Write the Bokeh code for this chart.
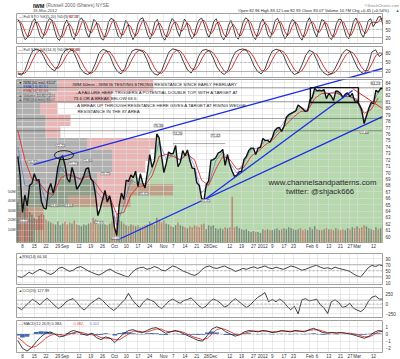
import numpy as np
from bokeh.plotting import figure
from bokeh.layouts import column
from bokeh.models import Range1d, LinearAxis, FixedTicker, Span, Label
from bokeh.embed import file_html
from bokeh.resources import INLINE
from bokeh.core.properties import value

FONT = "Liberation Sans"

# ------------------------------------------------------------------ data
HOLIDAYS = ["2011-09-05", "2011-11-24", "2011-12-26", "2012-01-02", "2012-01-16", "2012-02-20"]
TICK_DATES = ["2011-08-08", "2011-08-15", "2011-08-22", "2011-08-29", "2011-09-01", "2011-09-12",
              "2011-09-19", "2011-09-26", "2011-10-03", "2011-10-10", "2011-10-17", "2011-10-24",
              "2011-11-01", "2011-11-07", "2011-11-14", "2011-11-21", "2011-11-28", "2011-12-01",
              "2011-12-12", "2011-12-19", "2011-12-27", "2012-01-03", "2012-01-09", "2012-01-17",
              "2012-01-23", "2012-02-01", "2012-02-06", "2012-02-13", "2012-02-21", "2012-02-27",
              "2012-03-01", "2012-03-12"]
TICK_LABELS = ["8", "15", "22", "29", "Sep", "12", "19", "26", "Oct", "10", "17", "24", "Nov", "7",
               "14", "21", "28", "Dec", "12", "19", "27", "2012", "9", "17", "23", "Feb", "6", "13",
               "21", "27", "Mar", "12"]

# IWM closes, one per trading day, 4-Aug-2011 .. 16-Mar-2012
close = [72.5, 69.5, 63.8, 66.5, 64.8, 68.0, 68.3, 69.8, 68.8, 68.9, 65.5, 64.5, 64.3, 67.3, 68.3, 66.8, 68.2, 70.8, 72.2, 72.6,
         71.2, 69.0, 68.5, 70.8, 69.6, 67.4, 67.9, 68.6, 69.5, 70.6, 70.7, 69.0, 68.6, 66.5, 63.3, 64.4, 65.8, 67.2, 65.4, 66.4, 64.4,
         61.5, 60.2, 64.8, 66.8, 65.8, 68.8, 68.6, 69.6, 69.2, 70.2, 67.8, 69.8, 68.4, 67.6, 70.0, 72.8, 70.8, 71.8, 76.0, 75.4, 72.6,
         70.0, 71.4, 73.2, 72.9, 73.0, 74.2, 70.9, 71.6, 73.4, 72.6, 73.5, 71.9, 70.7, 70.6, 68.4, 68.0, 66.0, 65.6, 68.1, 68.7, 71.9,
         72.0, 72.3, 73.0, 73.2, 73.6, 71.1, 72.8, 71.2, 70.2, 69.4, 69.6, 70.1, 70.2, 72.0, 72.5, 73.4, 73.8, 73.8, 72.8, 73.8, 73.9,
         75.3, 75.0, 75.0, 74.7, 75.4, 76.5, 76.9, 77.0, 76.4, 77.2, 78.6, 79.0, 79.2, 79.4, 79.6, 80.5, 80.2, 79.9, 79.5, 79.6,
         81.3, 81.7, 83.1, 82.7, 82.8, 82.7, 82.9, 81.5, 82.3, 81.9, 81.2, 82.7, 82.6, 82.3, 81.6, 82.2, 82.4, 81.8, 82.3, 81.1,
         81.1, 80.5, 79.7, 77.6, 78.8, 80.0, 80.9, 80.7, 82.8, 82.5, 83.1, 83.07]

# volume, millions of shares
volume_m = [38, 30, 42, 36, 33, 28, 25, 22, 20, 24, 26, 25, 20, 18, 17, 16, 15, 18, 14, 16,
            18, 15, 17, 16, 19, 15, 14, 13, 15, 14, 16, 17, 22, 20, 18, 16, 17, 15, 14, 16, 18,
            24, 26, 20, 18, 16, 14, 13, 15, 14, 13, 14, 12, 13, 14, 15, 18, 16, 15, 22, 20, 17,
            19, 16, 15, 13, 12, 14, 17, 14, 13, 12, 11, 13, 12, 14, 13, 12, 15, 16, 10, 14, 13,
            14, 11, 10, 11, 10, 12, 11, 12, 44, 12, 13, 11, 10, 9, 10, 8, 7, 8, 7, 7, 6,
            10, 9, 10, 9, 9, 10, 11, 9, 10, 11, 10, 12, 11, 10, 9, 10, 11, 9, 10, 9,
            12, 10, 13, 10, 9, 9, 10, 11, 10, 10, 9, 11, 10, 9, 10, 9, 11, 10, 12, 11,
            13, 11, 12, 14, 13, 11, 10, 9, 12, 10, 11, 14]

# moving averages, every third trading day
ema_fast = [74.0, 68.0, 67.8, 68.6, 65.5, 66.5, 71.0, 69.5, 69.5, 68.7, 70.2, 67.2, 65.8, 66.2, 61.8, 65.0, 68.8, 68.2,
            68.3, 70.5, 74.8, 72.0, 72.8, 71.8, 73.3, 71.0, 66.8, 68.2, 71.8, 73.2, 71.5, 69.9, 71.6, 73.6, 73.8, 74.9,
            75.4, 76.8, 78.4, 79.3, 80.1, 79.7, 82.6, 82.7, 82.3, 82.6, 81.8, 81.8, 81.2, 78.2, 80.5, 82.4]
ema_slow = [76.5, 72.0, 69.0, 68.5, 67.0, 66.5, 69.0, 69.8, 69.3, 69.0, 69.5, 68.3, 66.8, 66.2, 63.5, 63.8, 66.5, 67.8,
            68.0, 69.5, 72.5, 72.8, 72.5, 72.0, 72.8, 72.0, 68.8, 68.0, 70.5, 72.5, 72.0, 70.5, 70.8, 72.5, 73.3, 74.3,
            75.0, 76.2, 77.5, 78.6, 79.5, 79.6, 81.5, 82.3, 82.3, 82.4, 81.9, 81.8, 81.4, 79.2, 79.8, 81.6]

# volume by price (bin low, millions of shares down / up)
vbp_low = [59.2, 61.0, 62.8, 64.6, 66.4, 68.2, 70.0, 71.8, 73.6, 75.4, 77.2, 79.0, 80.8, 82.6]
vbp_gray = [12, 20, 40, 208, 324, 324, 384, 384, 284, 116, 116, 96, 140, 168]
vbp_red = [56, 88, 68, 248, 304, 144, 132, 152, 272, 60, 100, 68, 240, 380]

sto1_k = [88, 72, 35, 12, 20, 55, 82, 90, 60, 28, 15, 42, 78, 91, 84, 48, 18, 9, 30, 68,
          86, 62, 26, 12, 44, 83, 94, 76, 40, 19, 52, 88, 79, 44, 16, 11, 38, 77, 92, 87,
          54, 24, 17, 49, 84, 71, 34, 12, 29, 70, 89, 94, 61, 30, 14, 41, 79, 88, 52, 21,
          10, 34, 69, 91, 80, 46, 24, 58, 89, 76, 36, 15, 27, 64, 87, 93, 71, 39, 19, 48,
          81, 90, 62, 26, 11, 29, 67, 84, 56, 23, 14, 44, 79, 94, 86, 51, 24, 12, 39, 74,
          89, 66, 31, 17, 47, 84, 92, 71, 36, 15, 29, 69, 87, 81, 46, 21, 10, 37, 77, 94,
          73, 41, 22, 54, 87, 83, 51, 21, 12, 34, 71, 89, 87, 56, 26, 15, 44, 81, 93, 71,
          36, 20, 49, 84, 90, 61, 75, 96, 99, 67]
sto1_d = [85, 80, 65, 40, 22, 29, 52, 76, 77, 59, 34, 28, 45, 70, 84, 74, 50, 25, 19, 36,
          61, 72, 58, 33, 27, 46, 74, 84, 70, 45, 37, 53, 73, 70, 46, 24, 22, 42, 69, 85,
          78, 55, 32, 30, 50, 68, 63, 39, 25, 37, 63, 84, 81, 62, 35, 28, 45, 69, 73, 54,
          28, 22, 38, 65, 80, 72, 50, 43, 57, 74, 67, 42, 26, 35, 59, 81, 84, 68, 43, 35,
          49, 73, 78, 59, 33, 22, 36, 60, 69, 54, 31, 27, 46, 72, 86, 77, 54, 29, 25, 42,
          67, 76, 62, 38, 32, 49, 74, 82, 66, 41, 27, 38, 62, 79, 71, 49, 26, 23, 41, 69,
          81, 69, 45, 39, 54, 75, 74, 52, 28, 22, 39, 65, 82, 77, 56, 32, 28, 47, 73, 82,
          67, 42, 35, 51, 74, 78, 75, 77, 90, 92]

sto2_k = [12, 8, 25, 60, 88, 94, 90, 70, 45, 30, 22, 40, 75, 92, 95, 88, 60, 30, 15, 10,
          18, 45, 80, 93, 90, 72, 40, 20, 12, 30, 65, 88, 94, 91, 85, 60, 28, 12, 8, 22,
          55, 85, 95, 92, 80, 50, 25, 15, 35, 70, 90, 93, 88, 65, 35, 18, 10, 25, 60, 85,
          92, 95, 90, 70, 40, 20, 12, 28, 62, 88, 94, 90, 75, 45, 22, 10, 15, 40, 72, 90,
          85, 60, 30, 15, 8, 12, 30, 55, 80, 93, 88, 62, 35, 18, 12, 40, 85, 92, 70, 79]
sto2_d = [15, 12, 15, 31, 58, 81, 91, 85, 68, 48, 32, 31, 46, 69, 87, 92, 81, 59, 35, 18,
          14, 24, 48, 73, 88, 85, 67, 44, 24, 21, 36, 61, 82, 91, 90, 79, 58, 33, 16, 14,
          28, 54, 78, 91, 89, 74, 52, 30, 25, 40, 65, 84, 90, 82, 63, 39, 21, 18, 32, 57,
          79, 91, 92, 85, 67, 43, 24, 20, 34, 59, 81, 91, 86, 70, 47, 26, 16, 22, 42, 67,
          82, 78, 58, 35, 18, 12, 17, 32, 55, 76, 87, 81, 62, 38, 22, 23, 46, 72, 82, 80]

rsi = [32, 28, 35, 45, 40, 48, 55, 50, 42, 38, 45, 58, 62, 55, 48, 52, 60, 64, 58, 50,
       45, 40, 36, 42, 50, 56, 48, 42, 38, 33, 30, 45, 55, 60, 62, 55, 58, 64, 60, 52,
       50, 58, 66, 62, 55, 48, 44, 38, 35, 42, 55, 63, 66, 60, 58, 62, 66, 60, 55, 48,
       52, 58, 55, 60, 63, 58, 62, 66, 60, 57, 62, 58, 55, 60, 66, 63, 58, 52, 55, 60,
       65, 68, 62, 58, 60, 56, 62, 58, 55, 52, 48, 40, 33, 30, 45, 60, 68, 64, 70, 66]

cci = [-80, -150, -60, 40, 120, 60, -20, 80, 150, 60, -40, -120, -60, 50, 110, 140, 40, -80, -160, -60,
       30, 100, 160, 90, -10, -100, -170, -90, 20, 110, 280, 120, 0, -90, 40, 140, 100, 60, -60, -120,
       -30, 80, 130, 70, 20, 90, 120, 160, 60, -40, -110, -60, 60, 130, 90, 20, -80, -40, 70, 140,
       60, -20, -90, -30, 80, 170, 230, 300, 60, 120, 60, 130, 60, -60, -150, -60, -260, 110, 140, 80,
       100, 130, -20, -100, -250, 60, 110, 40, -90, -60, 20, -110, -160, -200, -120, 60, 180, 210, 130, 128]

macd = [-0.9, -2.0, -2.4, -1.9, -1.1, -0.4, 0.1, 0.3, 0.0, -0.4, -0.3, 0.2, 0.5, 0.3, 0.0, -0.2, 0.1, -0.5, -0.8, -0.4,
        -0.6, -1.2, -0.5, 0.1, 0.5, 0.6, 0.3, 0.2, 0.5, 0.8, 0.9, 0.5, 0.1, 0.3, 0.5, 0.3, 0.0, -0.3, -0.6, -0.9,
        -1.0, -0.2, 0.7, 1.0, 0.8, 0.3, 0.0, -0.3, -0.1, 0.3, 0.5, 0.4, 0.3, 0.5, 0.4, 0.2, 0.3, 0.5, 0.4, 0.3,
        0.5, 0.4, 0.3, 0.6, 0.8, 0.5, 0.2, 0.1, 0.2, 0.1, 0.2, 0.1, 0.0, -0.2, -0.4, -0.6, -0.3, 0.2, 0.5, 0.38]
macd_signal = [-0.5, -1.0, -1.6, -1.9, -1.7, -1.2, -0.6, -0.2, 0.0, -0.1, -0.2, -0.1, 0.2, 0.3, 0.2, 0.0, -0.1, -0.2, -0.5, -0.6,
               -0.6, -0.8, -0.8, -0.4, 0.0, 0.4, 0.4, 0.3, 0.3, 0.5, 0.7, 0.7, 0.4, 0.3, 0.4, 0.4, 0.2, -0.1, -0.4, -0.6,
               -0.8, -0.6, 0.0, 0.6, 0.8, 0.6, 0.3, 0.0, -0.1, 0.1, 0.3, 0.4, 0.4, 0.4, 0.4, 0.3, 0.3, 0.4, 0.4, 0.4,
               0.4, 0.4, 0.4, 0.5, 0.6, 0.6, 0.4, 0.2, 0.2, 0.2, 0.2, 0.1, 0.1, 0.0, -0.2, -0.4, -0.4, -0.1, 0.3, 0.38]
macd_hist = [-0.2, -0.5, -0.4, 0.0, 0.3, 0.4, 0.35, 0.25, 0.0, -0.15, -0.05, 0.15, 0.15, 0.0, -0.1, -0.1, 0.1, -0.15, -0.15, 0.1,
             0.0, -0.2, 0.15, 0.25, 0.25, 0.1, -0.05, -0.05, 0.1, 0.15, 0.1, -0.1, -0.15, 0.0, 0.05, -0.05, -0.1, -0.1, -0.1, -0.15,
             -0.1, 0.2, 0.35, 0.2, 0.0, -0.15, -0.15, -0.15, 0.0, 0.1, 0.1, 0.0, -0.05, 0.05, 0.0, -0.05, 0.0, 0.05, 0.0, -0.05,
             0.05, 0.0, -0.05, 0.05, 0.1, -0.05, -0.1, -0.05, 0.0, -0.05, 0.0, 0.0, -0.05, -0.1, -0.1, -0.1, 0.05, 0.15, 0.1, 0.0]

# drawn annotations (trading-day index, price)
trend_top = ([6.7, 154.8], [71.24, 86.17])
trend_steep = ([78.8, 142.1], [65.65, 82.75])
trend_low = ([42.3, 154.8], [59.5, 78.7])
trend_red = ([142.1, 154.8], [83.06, 79.95])
trend_top_sto2 = ([138.0, 154.8], [-6.4, 29.9])
box = (124.2, 144.6, 80.9, 83.2)
ellipse = (19.6, 72.7, 8.1, 1.4)
dotted_levels = [83.2, 81.0, 78.4, 76.5]
dotted_partial = ([66.1, 88.2], [74.5, 74.5])

lab_x = [2.4, 6.2, 15.6, 18.1, 21.5, 23.6, 29.6, 34.3, 37.2, 41.5, 53.4, 59.7, 67.8, 79.7, 83.9, 147.0, 151.8]
lab_y = [62.5, 71.7, 64.9, 74.2, 64.9, 71.4, 71.9, 62.2, 69.8, 59.8, 66.7, 77.3, 76.1, 65.6, 75.75, 76.3, 83.9]
lab_t = ["61.51", "70.91", "63.66", "72.25", "63.64", "71.23", "71.80", "62.97", "70.25", "60.04", "65.61",
         "76.36", "74.26", "65.45", "75.42", "77.46", "83.23"]

ann_text = ["IWM 60min - IWM IS TESTING STRONG RESISTANCE SINCE EARLY FEBRUARY",
            "- A FAILURE HERE TRIGGERS A POTENTIAL DOUBLE TOP, WITH A TARGET AT",
            "73.6 OR A BREAK BELOW 68.6",
            "- A BREAK UP THROUGH RESISTANCE HERE GIVES A TARGET AT RISING WEDGE",
            "RESISTANCE IN THE 87 AREA"]
ann_x = [23.2, 24.5, 23.6, 24.1, 25.3]
ann_y = [83.7, 82.45, 81.52, 80.43, 79.5]

# ------------------------------------------------------------------ helpers
alldays = np.arange(np.datetime64("2011-08-04"), np.datetime64("2012-03-17"))
tdays = alldays[np.is_busday(alldays, holidays=HOLIDAYS)]
tick_pos = [int(np.searchsorted(tdays, np.datetime64(d))) for d in TICK_DATES]
day_x = list(range(len(close)))
ema_x = list(range(0, 3 * len(ema_fast), 3))
sto1_x = np.linspace(0, 155, len(sto1_k))
sto2_x = np.linspace(0, 155, len(sto2_k))
rc_x = np.linspace(0, 155, len(rsi))
macd_x = np.linspace(0, 155, len(macd))

XR = Range1d(-0.55, 154.8)
W = 366
GRID = "#dcdcdc"


def plain_axis(a, size="4.5px", standoff=2):
    a.major_label_text_font_size = size
    a.major_label_text_font = FONT
    a.major_label_text_color = "#333333"
    a.major_tick_line_color = None
    a.minor_tick_line_color = None
    a.major_tick_out = 0
    a.major_tick_in = 0
    a.minor_tick_out = 0
    a.minor_tick_in = 0
    a.axis_line_color = None
    a.major_label_standoff = standoff


def panel(h, yr, yticks, top=0, bottom=1, xaxis=False):
    p = figure(frame_width=W, frame_height=h, x_range=XR, y_range=yr,
               output_backend="svg", toolbar_location=None,
               y_axis_location="right", x_axis_location="below" if xaxis else None,
               min_border_left=16, min_border_right=17, min_border_top=top, min_border_bottom=bottom)
    p.outline_line_color = "#a0a0a0"
    ax = p.yaxis[0]
    ax.ticker = FixedTicker(ticks=yticks)
    plain_axis(ax, standoff=3)
    if xaxis:
        xa = p.xaxis[0]
        xa.ticker = FixedTicker(ticks=tick_pos)
        xa.major_label_overrides = {float(t): l for t, l in zip(tick_pos, TICK_LABELS)}
        plain_axis(xa, standoff=1)
    p.xgrid.ticker = FixedTicker(ticks=tick_pos)
    p.ygrid.ticker = FixedTicker(ticks=yticks)
    p.xgrid.grid_line_color = GRID
    p.ygrid.grid_line_color = GRID
    p.xgrid.grid_line_width = 0.6
    p.ygrid.grid_line_width = 0.6
    return p


def txt(p, xs, ys, texts, colors, size="4px", style="normal", align="left"):
    p.text(x=xs, y=ys, text=texts, text_color=colors, text_font=value(FONT),
           text_font_size=value(size), text_font_style=style, text_baseline="middle", text_align=align)


def hline(p, y, color="#9a9a9a", dash="solid", width=0.7):
    p.add_layout(Span(location=y, dimension="width", line_color=color, line_dash=dash, line_width=width))


# ------------------------------------------------------------------ header
hdr = figure(frame_width=399, frame_height=13, x_range=Range1d(0, 399), y_range=Range1d(13, 0),
             output_backend="svg", toolbar_location=None, x_axis_location=None, y_axis_location=None,
             min_border=0)
hdr.outline_line_color = None
hdr.grid.visible = False
txt(hdr, [16.5], [5.3], ["IWM"], ["#111111"], size="5.6px", style="bold")
txt(hdr, [29.5], [5.3], ["(Russell 2000 iShares) NYSE"], ["#666666"], size="4.8px")
txt(hdr, [16.5], [10.3], ["16-Mar-2012"], ["#444444"], size="4.2px")
txt(hdr, [383], [4.8], ["\u00a9StockCharts.com"], ["#888888"], size="4.2px", align="right")
txt(hdr, [378], [9.8], ["Open 82.96  High 83.12  Low 82.93  Close 83.07  Volume 10.7M  Chg +0.45 (+0.54%)"],
    ["#222222"], size="4.1px", align="right")
txt(hdr, [379], [9.8], ["\u25b2"], ["#2a8a2a"], size="4.1px")

# ------------------------------------------------------------------ stochastics 1
p1 = panel(30, Range1d(-2.5, 110), [20, 50, 80], top=0, bottom=2)
hline(p1, 80); hline(p1, 20); hline(p1, 50, dash="2 2")
p1.line(sto1_x, sto1_d, color="#cc0000", line_width=0.8)
p1.line(sto1_x, sto1_k, color="#111111", line_width=0.8)
txt(p1, [0.3, 21.5], [98.5, 98.5], ["\u2014 Full STO %K(5,20) %D(3) 67.37,", "91.74"],
    ["#333333", "#e04040"], size="3.9px")

# ------------------------------------------------------------------ stochastics 2
p2 = panel(31, Range1d(0, 103), [20, 50, 80], top=1, bottom=1)
hline(p2, 80); hline(p2, 20); hline(p2, 50, dash="2 2")
p2.line(sto2_x, sto2_d, color="#cc0000", line_width=0.8)
p2.line(sto2_x, sto2_k, color="#111111", line_width=0.8)
p2.line(trend_top_sto2[0], trend_top_sto2[1], color="#1a2ee6", line_width=1.3)
txt(p2, [0.3, 22.4], [93, 93], ["\u2014 Full STO %K(14,3) %D(3) 78.94,", "71.48"],
    ["#333333", "#e04040"], size="3.9px")

# ------------------------------------------------------------------ price panel
YMIN = 59.11
p3 = panel(163, Range1d(YMIN, 84.47), list(range(60, 85)), top=1, bottom=7, xaxis=True)
p3.extra_y_ranges = {"vol": Range1d(-4, 167)}
vax = LinearAxis(y_range_name="vol", ticker=FixedTicker(ticks=[10, 20, 30, 40, 50]),
                 major_label_overrides={10: "10M", 20: "20M", 30: "30M", 40: "40M", 50: "50M"})
plain_axis(vax, size="4px", standoff=1)
p3.add_layout(vax, "left")

p3.varea(x=day_x, y1=YMIN, y2=close, fill_color="#b5d8ad", level="image")
vbp_mid = [v + 0.9 for v in vbp_low]
VBP_SCALE = 0.106
g_right = [XR.start + g * VBP_SCALE for g in vbp_gray]
r_right = [gr + r * VBP_SCALE for gr, r in zip(g_right, vbp_red)]
p3.hbar(y=vbp_mid, left=XR.start, right=g_right, height=1.75, fill_color="#707070", fill_alpha=0.55,
        line_color=None, level="image")
p3.hbar(y=vbp_mid, left=g_right, right=r_right, height=1.75, fill_color="#cf5a5a", fill_alpha=0.45,
        line_color=None, level="image")

cl = np.array(close)
chg = np.diff(cl, prepend=cl[0])
vcol = ["#c44a4a" if c < 0 else "#555555" for c in chg]
p3.vbar(x=day_x, top=volume_m, bottom=-4, width=0.6, fill_color=vcol, line_color=None,
        fill_alpha=0.6, y_range_name="vol")

for lv in dotted_levels:
    hline(p3, lv, color="#222222", dash="1 1", width=0.8)
p3.line(dotted_partial[0], dotted_partial[1], color="#222222", line_dash="1 1", line_width=0.8)

p3.line(ema_x, ema_slow, color="#e03030", line_width=0.9)
p3.line(ema_x, ema_fast, color="#3050d0", line_width=0.6, alpha=0.8)
p3.line(day_x, close, color="#111111", line_width=1.4)

for tl in (trend_top, trend_steep, trend_low):
    p3.line(tl[0], tl[1], color="#1a2ee6", line_width=1.3)
p3.line(trend_red[0], trend_red[1], color="#e03030", line_width=1.0)
p3.quad(left=[box[0]], right=[box[1]], bottom=[box[2]], top=[box[3]], fill_color=None,
        line_color="#111111", line_width=1.4)
p3.ellipse(x=[ellipse[0]], y=[ellipse[1]], width=ellipse[2], height=ellipse[3], fill_color=None,
           line_color="#111111", line_width=0.9)

for x, y, t in zip(lab_x, lab_y, lab_t):
    p3.add_layout(Label(x=x, y=y, text=t, text_font=FONT, text_font_size="3.6px", text_color="#333333",
                        text_align="center", text_baseline="middle", background_fill_color="white",
                        background_fill_alpha=0.95, border_line_color="#8a8a8a", border_line_width=0.5))

txt(p3, ann_x, ann_y, ann_text, ["#1e1e1e"] * len(ann_text), size="4.4px")
txt(p3, [129.3, 128.3], [68.45, 67.05], ["www.channelsandpatterns.com", "twitter: @shjack666"],
    ["#2b2b2b", "#2b2b2b"], size="7.8px", align="center")

leg_text = ["\u25bc IWM (60 min) 83.07", "\u2014 EMA(13) 82.61", "\u2014 EMA(34) 82.09",
            "\u25b2 Volume 10,817,224", "\u25b2 PMC(60 min) 83.07"]
leg_col = ["#222222", "#2040c0", "#d03030", "#555555", "#555555"]
txt(p3, [0.3] * 5, [83.95, 83.3, 82.63, 81.95, 81.27], leg_text, leg_col, size="3.7px")

# ------------------------------------------------------------------ RSI
p4 = panel(31, Range1d(5, 107), [10, 30, 50, 70, 90], top=2, bottom=1)
hline(p4, 70); hline(p4, 30); hline(p4, 50, dash="2 2")
p4.line(rc_x, rsi, color="#111111", line_width=0.8)
txt(p4, [0.3, 2.0], [97, 97], ["\u25b2", "RSI(14) 66.34"], ["#2a7a2a", "#333333"], size="3.9px")

# ------------------------------------------------------------------ CCI
p5 = panel(30, Range1d(-355, 434), [-250, 0, 250], top=2, bottom=1)
hline(p5, 100); hline(p5, -100); hline(p5, 0, dash="2 2")
p5.line(rc_x, cci, color="#111111", line_width=0.8)
txt(p5, [0.3, 2.0], [355, 355], ["\u25b2", "CCI(20) 127.99"], ["#2a7a2a", "#333333"], size="3.9px")

# ------------------------------------------------------------------ MACD
p6 = panel(32, Range1d(-2.6, 1.9), [-2, -1, 0, 1], top=2, bottom=7, xaxis=True)
hline(p6, 0, dash="2 2")
p6.vbar(x=macd_x, top=macd_hist, bottom=0, width=1.96, fill_color="#2050a8", line_color=None, fill_alpha=0.85)
p6.line(macd_x, macd_signal, color="#e03030", line_width=0.9)
p6.line(macd_x, macd, color="#111111", line_width=0.8)
txt(p6, [0.3, 23.6, 30.4], [1.48, 1.48, 1.48], ["\u2014 MACD(12,26,9) 0.384,", "0.382,", "0.002"],
    ["#333333", "#e04040", "#7080e0"], size="3.9px")

layout = column(hdr, p1, p2, p3, p4, p5, p6, spacing=0)
open("out.html", "w").write(file_html(layout, INLINE))
